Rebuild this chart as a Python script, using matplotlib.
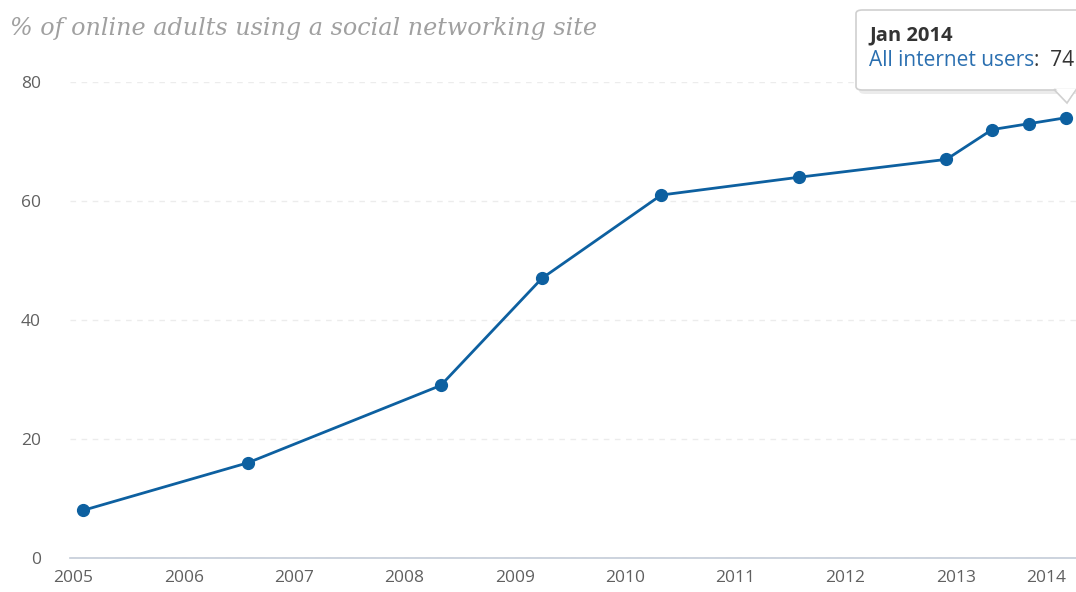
import matplotlib
matplotlib.use('Agg')
import matplotlib.pyplot as plt
import matplotlib.dates as mdates
from matplotlib.patches import FancyBboxPatch, Polygon
import pandas as pd

# Survey dates and share of online adults on social networking sites
survey_dates = ['2005-02-01', '2006-08-01', '2008-05-01', '2009-04-01', '2010-05-01',
                '2011-08-01', '2012-12-01', '2013-05-01', '2013-09-01', '2014-01-01']
pct_users = [8, 16, 29, 47, 61, 64, 67, 72, 73, 74]
series_name = 'All internet users'
y_ticks = [0, 20, 40, 60, 80]

BLUE = '#0d60a0'
GREY = '#606060'

plt.rcParams['font.family'] = ['Open Sans', 'DejaVu Sans']

dates = pd.to_datetime(survey_dates)

fig = plt.figure(figsize=(10.76, 5.92), dpi=100)
ax = fig.add_axes([70 / 1076, 1 - 558 / 592, 1 - 70 / 1076, (558 - 82) / 592])

ax.plot(dates, pct_users, color=BLUE, lw=2, marker='o', ms=8.5,
        markeredgecolor=BLUE, clip_on=False, zorder=3)

ax.set_ylim(0, 80)
ax.set_xlim(pd.Timestamp('2004-12-20'), pd.Timestamp('2014-02-03'))

ax.set_yticks(y_ticks)
ax.grid(axis='y', color='#ececec', lw=1, ls=(0, (4, 4)))
ax.set_axisbelow(True)
ax.xaxis.set_major_locator(mdates.YearLocator())
ax.xaxis.set_major_formatter(mdates.DateFormatter('%Y'))

for side in ['top', 'right', 'left']:
    ax.spines[side].set_visible(False)
ax.spines['bottom'].set_color('#c4ccd8')
ax.spines['bottom'].set_linewidth(1.2)
ax.tick_params(axis='both', length=0, labelsize=12.5, labelcolor=GREY)
ax.tick_params(axis='y', pad=21)
ax.tick_params(axis='x', pad=9)
for lbl in ax.get_xticklabels():
    if lbl.get_text() == '2014':
        lbl.set_horizontalalignment('right')

fig.text(10 / 1076, 1 - 28 / 592, '% of online adults using a social networking site',
         family='DejaVu Serif', style='italic', fontsize=17.2, color='#a0a0a0',
         va='center', ha='left')

# tooltip for the last point
W, H = 1076, 592
box = FancyBboxPatch((856 / W, 1 - 90 / H), 260 / W, 80 / H,
                     boxstyle='round,pad=0,rounding_size=0.006',
                     transform=fig.transFigure, facecolor='white',
                     edgecolor='#d0d0d0', lw=1.2, zorder=5)
shadow = FancyBboxPatch((859 / W, 1 - 94 / H), 260 / W, 80 / H,
                        boxstyle='round,pad=0,rounding_size=0.006',
                        transform=fig.transFigure, facecolor='#000000',
                        alpha=0.08, edgecolor='none', zorder=4)
tip = Polygon([(1054 / W, 1 - 89.5 / H), (1067 / W, 1 - 103 / H), (1076 / W, 1 - 89.5 / H)],
              closed=True, transform=fig.transFigure, facecolor='white',
              edgecolor='#d0d0d0', lw=1.2, zorder=5)
fig.patches.extend([shadow, box, tip])
# hide the box border where the pointer joins
fig.patches.append(Polygon([(1055.5 / W, 1 - 88.5 / H), (1067 / W, 1 - 100.5 / H), (1076 / W, 1 - 88.5 / H)],
                           closed=True, transform=fig.transFigure, facecolor='white',
                           edgecolor='none', zorder=6))

last_label = dates[-1].strftime('%b %Y')
fig.text(869 / W, 1 - 35 / H, last_label, fontsize=14.5, fontweight='bold',
         color='#333333', va='center', ha='left', zorder=7)
t1 = fig.text(869 / W, 1 - 60 / H, series_name, fontsize=15, color='#2a6fb0',
              va='center', ha='left', zorder=7)
fig.canvas.draw()
bb = t1.get_window_extent()
fig.text(bb.x1 / W, 1 - 60 / H, ':  ' + str(pct_users[-1]), fontsize=15,
         color='#333333', va='center', ha='left', zorder=7)

fig.savefig('out.png', dpi=100)
